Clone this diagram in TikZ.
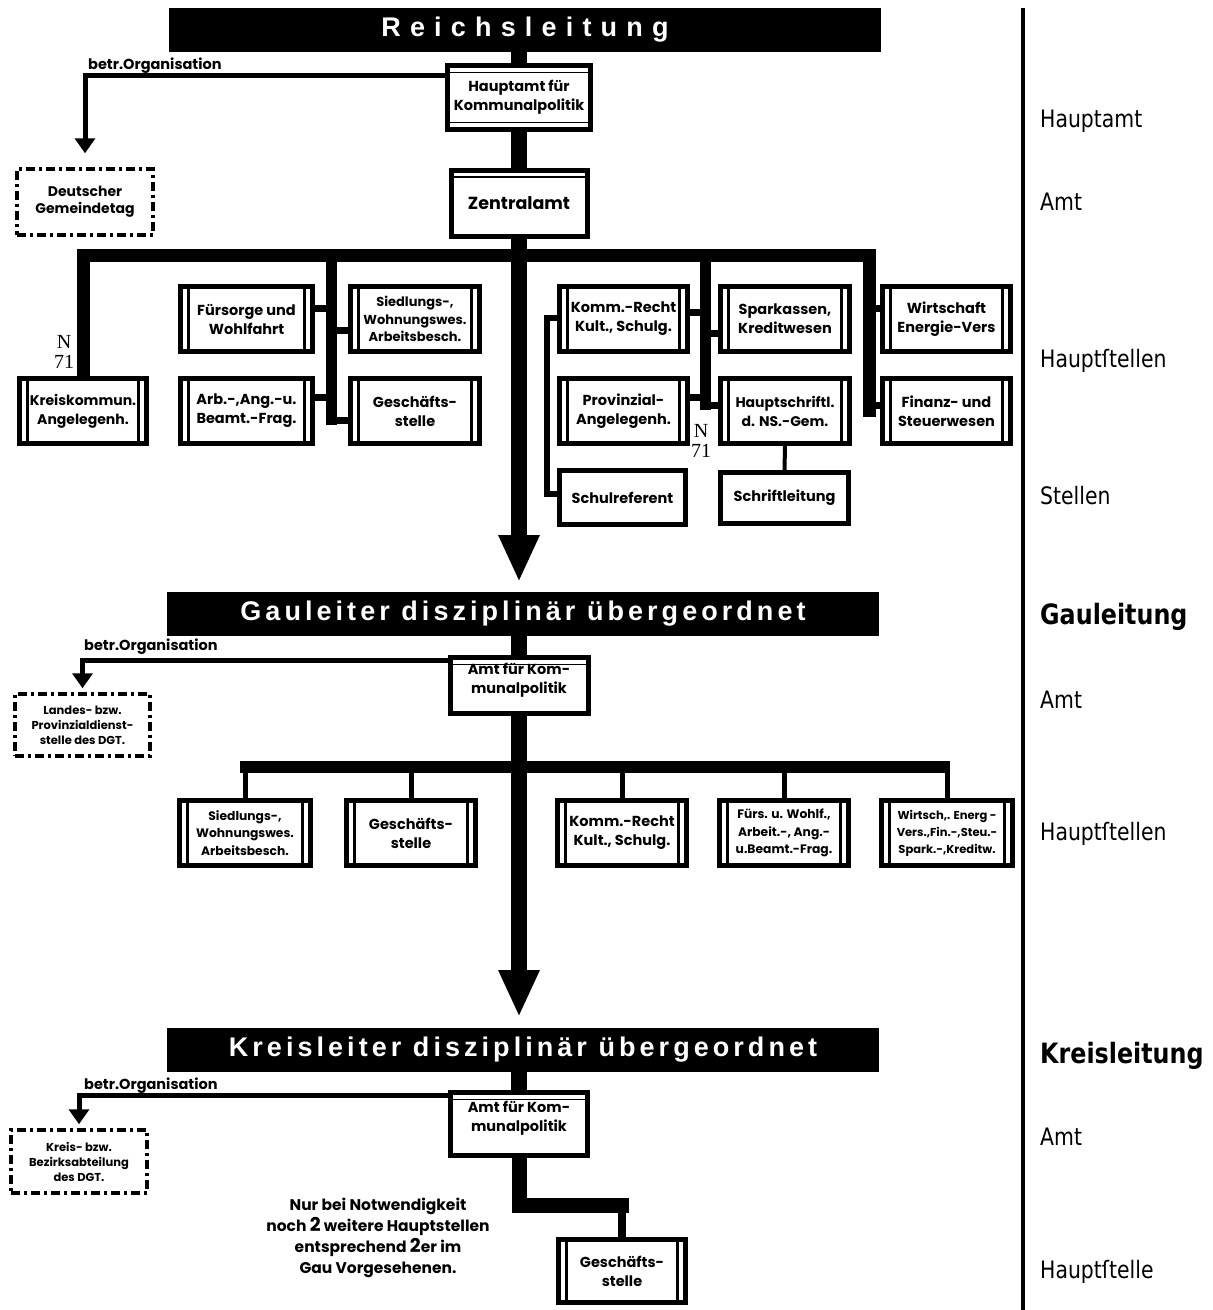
\documentclass[tikz,border=0pt]{standalone}
\usepackage{fontspec}
\setmainfont{Poppins}
\newfontfamily\barfont{Liberation Sans}
\newfontfamily\colfont[FakeStretch=0.85]{DejaVu Sans}
\newfontfamily\serfont{Liberation Serif}
\usetikzlibrary{arrows.meta}
\tikzset{
  titlebar/.style={fill=black, text=white, minimum width=712pt, minimum height=44pt, inner sep=0pt,
    font=\barfont\bfseries\fontsize{27}{29}\selectfont},
  box/.style={draw, line width=5pt, fill=white, inner sep=0pt, align=center,
    font=\bfseries\fontsize{14.5}{19}\selectfont},
  smallbox/.style={font=\bfseries\fontsize{13}{17.5}\selectfont},
  gsmallbox/.style={font=\bfseries\fontsize{12.3}{17.5}\selectfont},
  dbox/.style={box, path picture={
    \draw[line width=2.2pt]
      ([xshift=8pt]path picture bounding box.north west) -- ([xshift=8pt]path picture bounding box.south west)
      ([xshift=-8pt]path picture bounding box.north east) -- ([xshift=-8pt]path picture bounding box.south east);}},
  hboxtb/.style={box, path picture={
    \draw[line width=1.8pt]
      ([yshift=-7pt]path picture bounding box.north west) -- ([yshift=-7pt]path picture bounding box.north east)
      ([yshift=7pt]path picture bounding box.south west) -- ([yshift=7pt]path picture bounding box.south east);}},
  hboxt/.style={box, path picture={
    \draw[line width=1.8pt]
      ([yshift=-7pt]path picture bounding box.north west) -- ([yshift=-7pt]path picture bounding box.north east);}},
  dgtbox/.style={draw, line width=3.5pt, dash pattern=on 9pt off 4pt on 3pt off 4pt, fill=white,
    inner sep=0pt, align=center, font=\bfseries\fontsize{14}{17}\selectfont},
  boxtext/.style={inner sep=0pt, align=center, font=\bfseries\fontsize{14.5}{19}\selectfont},
  trunk/.style={line width=16pt},
  barline/.style={line width=13pt, line join=miter},
  vline/.style={line width=11pt},
  stub/.style={line width=7pt},
  thinstub/.style={line width=5pt},
  betr/.style={line width=5pt, line join=miter, -{Triangle[width=20pt,length=15pt]}},
  bigarrow/.style={-{Triangle[width=38pt,length=47pt]}},
  coltext/.style={font=\colfont\fontsize{24}{26}\selectfont, anchor=base west, inner sep=0pt},
  colbold/.style={font=\colfont\bfseries\fontsize{28}{30}\selectfont, anchor=base west, inner sep=0pt},
  nlab/.style={font=\serfont\fontsize{20}{20}\selectfont, inner sep=0pt, align=center},
  orgtext/.style={font=\bfseries\fontsize{14.5}{16}\selectfont, anchor=base west, inner sep=0pt},
}
\begin{document}
\begin{tikzpicture}[x=1pt,y=-1pt]
\useasboundingbox (0,0) rectangle (1213,1310);
\fill[white] (0,0) rectangle (1213,1310);

% ---------------- Reichsleitung ----------------
\node[titlebar] (rbar) at (525,29.5) {\addfontfeature{LetterSpace=34}Reichsleitung};
\node[hboxtb, minimum width=143pt, minimum height=64pt] (hamt) at (519,97.5) {Hauptamt für\\Kommunalpolitik};
\node[hboxt, minimum width=136pt, minimum height=66pt, font=\bfseries\fontsize{17.5}{20}\selectfont] (zamt) at (519,203) {Zentralamt};
\node[dgtbox, minimum width=136pt, minimum height=66pt] (dgt) at (85,202) {Deutscher\\Gemeindetag};

\node[dbox, font=\bfseries\fontsize{14}{19}\selectfont, minimum width=127pt, minimum height=65pt] (kreis) at (83,411) {Kreiskommun.\\Angelegenh.};
\node[dbox, minimum width=132pt, minimum height=65pt] (fur) at (246.5,319) {Fürsorge und\\Wohlfahrt};
\node[dbox, smallbox, minimum width=129pt, minimum height=65pt] (sied) at (415,319) {Siedlungs-,\\Wohnungswes.\\Arbeitsbesch.};
\node[dbox, minimum width=132pt, minimum height=65pt] (arb) at (246.5,411) {Arb.-,Ang.-u.\\Beamt.-Frag.};
\node[dbox, minimum width=129pt, minimum height=65pt] (gesch1) at (415,411) {Geschäfts-\\stelle};
\node[dbox, minimum width=128pt, minimum height=65pt] (komm) at (623.5,319) {Komm.-Recht\\Kult., Schulg.};
\node[dbox, minimum width=129pt, minimum height=65pt] (spar) at (785,319) {Sparkassen,\\Kreditwesen};
\node[dbox, minimum width=128pt, minimum height=65pt] (wirt) at (946.5,319) {Wirtschaft\\Energie-Vers};
\node[dbox, minimum width=128pt, minimum height=65pt] (prov) at (623.5,411) {Provinzial-\\Angelegenh.};
\node[dbox, font=\bfseries\fontsize{14}{19}\selectfont, minimum width=129pt, minimum height=65pt] (haupts) at (785,411) {Hauptschriftl.\\d. NS.-Gem.};
\node[dbox, minimum width=128pt, minimum height=65pt] (fin) at (946.5,411) {Finanz- und\\Steuerwesen};
\node[box, minimum width=126pt, minimum height=54pt] (schul) at (622.5,497.5) {Schulreferent};
\node[box, minimum width=128pt, minimum height=51pt] (schrift) at (784.5,498) {Schriftleitung};

\node[orgtext] (org1) at (88,69) {betr.Organisation};
\node[nlab] (n1) at (64,352) {N\\71};
\node[nlab] (n2) at (701,441) {N\\71};

\coordinate (tip1) at (519,582);
\coordinate (fvt) at (869,255);
\coordinate (fvb) at (869,417);
\coordinate (lvt) at (331,255);
\coordinate (lvb) at (331,425);
\coordinate (rvt) at (705,255);
\coordinate (rvb) at (705,410);
\coordinate (sc) at (547,494);

\draw[trunk] (hamt.north |- rbar.south) -- (hamt.north);
\draw[trunk] (hamt.south) -- (zamt.north);
\draw[trunk, bigarrow] (zamt.south) -- (tip1);
\draw[betr] (hamt.west |- 0,75) -| ([yshift=14pt]dgt.north);
\draw[barline] (kreis.north) |- (fvt) -- (fvb);
\draw[vline] (lvt) -- (lvb);
\draw[vline] (rvt) -- (rvb);
\draw[stub] (fur.east |- 0,308) -- (lvt |- 0,308);
\draw[stub] (sied.west |- 0,330) -- (lvt |- 0,330);
\draw[stub] (arb.east |- 0,397) -- (lvt |- 0,397);
\draw[stub] (gesch1.west |- 0,420) -- (lvt |- 0,420);
\draw[stub] (komm.east |- 0,312) -- (rvt |- 0,312);
\draw[stub] (spar.west |- 0,333) -- (rvt |- 0,333);
\draw[stub] (prov.east |- 0,397) -- (rvt |- 0,397);
\draw[stub] (haupts.west |- 0,405) -- (rvt |- 0,405);
\draw[stub] (wirt.west |- 0,308) -- (fvt |- 0,308);
\draw[stub] (fin.west |- 0,405) -- (fvt |- 0,405);
\draw[line width=6pt, line join=miter] (komm.west |- 0,318) -| (sc) -- (schul.west |- sc);
\draw[line width=4pt] (haupts.south) -- (schrift.north);

% ---------------- Gauleitung ----------------
\node[titlebar] (gbar) at (523,614) {\addfontfeature{LetterSpace=15}Gauleiter disziplinär übergeordnet};
\node[hboxt, minimum width=138pt, minimum height=56pt] (gamt) at (519,685.5) {};
\node[boxtext] (gamtt) at (519,680) {Amt für Kom-\\munalpolitik};
\node[dgtbox, font=\bfseries\fontsize{11.5}{15}\selectfont, minimum width=135pt, minimum height=62pt] (landes) at (82.5,725) {Landes- bzw.\\Provinzialdienst-\\stelle des DGT.};
\node[orgtext] (org2) at (84,650) {betr.Organisation};

\node[dbox, gsmallbox, minimum width=131pt, minimum height=65pt] (gsied) at (245,833) {Siedlungs-,\\Wohnungswes.\\Arbeitsbesch.};
\node[dbox, minimum width=129pt, minimum height=65pt] (ggesch) at (411,833) {Geschäfts-\\stelle};
\node[dbox, minimum width=129pt, minimum height=65pt] (gkomm) at (622,833) {Komm.-Recht\\Kult., Schulg.};
\node[dbox, gsmallbox, minimum width=129pt, minimum height=65pt] (gfurs) at (784,833) {Fürs. u. Wohlf.,\\Arbeit.-, Ang.-\\u.Beamt.-Frag.};
\node[dbox, font=\bfseries\fontsize{11.5}{17}\selectfont, minimum width=131pt, minimum height=65pt] (gwirt) at (947,833) {Wirtsch,. Energ -\\Vers.,Fin.-,Steu.-\\Spark.-,Kreditw.};

\coordinate (gbl) at (240,767);
\coordinate (gbr) at (950,767);
\coordinate (tip2) at (519,1017);

\draw[trunk] (gamt.north |- gbar.south) -- (gamt.north);
\draw[betr] (gamt.west |- 0,660) -| ([yshift=4pt]landes.north);
\draw[trunk, bigarrow] (gamt.south) -- (tip2);
\draw[line width=12pt] (gbl) -- (gbr);
\foreach \n in {gsied,ggesch,gkomm,gfurs,gwirt}
  \draw[thinstub] (\n.north) -- (\n.north |- gbl);

% ---------------- Kreisleitung ----------------
\node[titlebar] (kbar) at (523,1050) {\addfontfeature{LetterSpace=15}Kreisleiter disziplinär übergeordnet};
\node[hboxt, minimum width=137pt, minimum height=63pt] (kamt) at (519,1124) {};
\node[boxtext] (kamtt) at (519,1118) {Amt für Kom-\\munalpolitik};
\node[dgtbox, font=\bfseries\fontsize{11.5}{15}\selectfont, minimum width=136pt, minimum height=63pt] (kdgt) at (79,1161.5) {Kreis- bzw.\\Bezirksabteilung\\des DGT.};
\node[orgtext] (org3) at (84,1089) {betr.Organisation};
\node[dbox, minimum width=127pt, minimum height=63pt] (kgesch) at (622,1271) {Geschäfts-\\stelle};
\node[boxtext, font=\bfseries\fontsize{15.5}{21}\selectfont] (note) at (378,1238)
  {Nur bei Notwendigkeit\\noch {\fontsize{19}{21}\selectfont 2} weitere Hauptstellen\\entsprechend {\fontsize{19}{21}\selectfont 2}er im\\Gau Vorgesehenen.};

\coordinate (kj) at (629,1205);
\draw[trunk] (kamt.north |- kbar.south) -- (kamt.north);
\draw[betr] (kamt.west |- 0,1095) -| ([yshift=4pt]kdgt.north);
\draw[line width=15pt, line join=miter] (kamt.south) |- (kj);
\draw[line width=8pt] (kgesch.north |- 0,1198) -- (kgesch.north);

% ---------------- right column ----------------
\coordinate (ct) at (1023,8);
\coordinate (cb) at (1023,1310);
\draw[line width=4pt] (ct) -- (cb);
\node[coltext] (l1) at (1040,127) {Hauptamt};
\node[coltext] (l2) at (1040,210) {Amt};
\node[coltext] (l3) at (1040,367) {Hauptſtellen};
\node[coltext] (l4) at (1040,504) {Stellen};
\node[colbold] (l5) at (1040,624) {Gauleitung};
\node[coltext] (l6) at (1040,708) {Amt};
\node[coltext] (l7) at (1040,840) {Hauptſtellen};
\node[colbold] (l8) at (1040,1063) {Kreisleitung};
\node[coltext] (l9) at (1040,1145) {Amt};
\node[coltext] (l10) at (1040,1278) {Hauptſtelle};
\end{tikzpicture}
\end{document}
